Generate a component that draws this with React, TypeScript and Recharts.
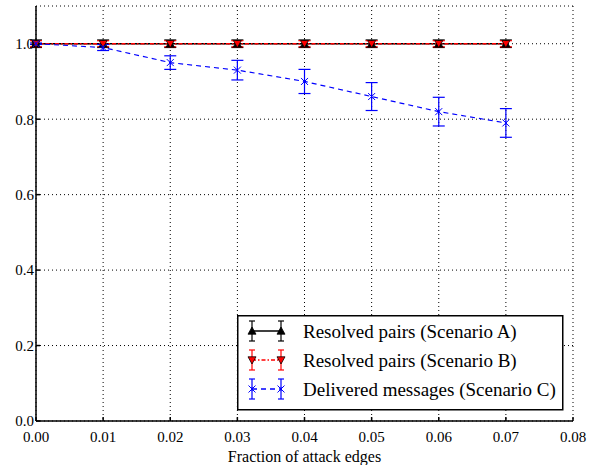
import React from 'react';
import { LineChart, Line, XAxis, YAxis, CartesianGrid, ErrorBar, Legend } from 'recharts';

const fractions = [0, 0.01, 0.02, 0.03, 0.04, 0.05, 0.06, 0.07];
const resolvedA = [1, 1, 1, 1, 1, 1, 1, 1];
const resolvedAErr = [0.01, 0.01, 0.01, 0.01, 0.01, 0.01, 0.01, 0.01];
const resolvedB = [1, 1, 1, 1, 1, 1, 1, 1];
const resolvedBErr = [0.008, 0.008, 0.008, 0.008, 0.008, 0.008, 0.008, 0.008];
const deliveredC = [1.0, 0.99, 0.95, 0.93, 0.9, 0.86, 0.82, 0.79];
const deliveredCErr = [0.002, 0.008, 0.018, 0.026, 0.032, 0.037, 0.038, 0.038];

const xTicks = [0, 0.01, 0.02, 0.03, 0.04, 0.05, 0.06, 0.07, 0.08];
const yTicks = [0, 0.2, 0.4, 0.6, 0.8, 1.0];

const legendLabels = [
  'Resolved pairs (Scenario A)',
  'Resolved pairs (Scenario B)',
  'Delivered messages (Scenario C)',
];

const data = fractions.map((f, i) => ({
  x: f,
  a: resolvedA[i],
  aErr: resolvedAErr[i],
  b: resolvedB[i],
  bErr: resolvedBErr[i],
  c: deliveredC[i],
  cErr: deliveredCErr[i],
}));

const FONT = 'Liberation Serif, DejaVu Serif, Times New Roman, Times, serif';

const triUp = (cx: number, cy: number, s: number) =>
  `M${cx},${cy - s} L${cx + s},${cy + s * 0.8} L${cx - s},${cy + s * 0.8} Z`;
const triDown = (cx: number, cy: number, s: number) =>
  `M${cx},${cy + s} L${cx + s},${cy - s * 0.8} L${cx - s},${cy - s * 0.8} Z`;
const xMark = (cx: number, cy: number, s: number) =>
  `M${cx - s},${cy - s} L${cx + s},${cy + s} M${cx - s},${cy + s} L${cx + s},${cy - s} M${cx},${cy - s * 0.6} L${cx},${cy + s * 0.6}`;

const DotA = (p: any) =>
  p.cx == null ? <g key={p.index} /> : <path key={p.index} d={triUp(p.cx, p.cy, 4)} fill="#000" stroke="#000" strokeWidth={0.8} />;
const DotB = (p: any) =>
  p.cx == null ? <g key={p.index} /> : <path key={p.index} d={triDown(p.cx, p.cy, 4)} fill="#ff0000" stroke="#000" strokeWidth={0.8} />;
const DotC = (p: any) =>
  p.cx == null ? <g key={p.index} /> : <path key={p.index} d={xMark(p.cx, p.cy, 3.5)} fill="none" stroke="#0000ff" strokeWidth={1} />;

const LegendBox = () => {
  const rows = [331, 360, 389].map((y) => y - 315);
  const x1 = 15;
  const x2 = 44;
  const colors = ['#000', '#ff0000', '#0000ff'];
  const dashes = [undefined, '4 2 1.5 2', '5 4'];
  return (
    <svg width={327} height={96} style={{ display: 'block' }}>
      <rect x={0.75} y={0.75} width={325} height={94} fill="#fff" stroke="#000" strokeWidth={1.5} />
      {rows.map((cy, i) => (
        <g key={i}>
          <line x1={x1} y1={cy} x2={x2} y2={cy} stroke={colors[i]} strokeWidth={1.5} strokeDasharray={dashes[i]} />
          {[x1, x2].map((xx) => (
            <g key={xx}>
              <line x1={xx} y1={cy - 10} x2={xx} y2={cy + 10} stroke={colors[i]} strokeWidth={1.2} />
              <line x1={xx - 3} y1={cy - 10} x2={xx + 3} y2={cy - 10} stroke={colors[i]} strokeWidth={1.2} />
              <line x1={xx - 3} y1={cy + 10} x2={xx + 3} y2={cy + 10} stroke={colors[i]} strokeWidth={1.2} />
              {i === 0 && <path d={triUp(xx, cy, 4)} fill="#000" stroke="#000" strokeWidth={0.8} />}
              {i === 1 && <path d={triDown(xx, cy, 4)} fill="#ff0000" stroke="#000" strokeWidth={0.8} />}
              {i === 2 && <path d={xMark(xx, cy, 3.5)} fill="none" stroke="#0000ff" strokeWidth={1} />}
            </g>
          ))}
          <text x={66} y={cy} dominantBaseline="central" style={{ fontFamily: FONT }} fontSize={19} fill="#000">
            {legendLabels[i]}
          </text>
        </g>
      ))}
    </svg>
  );
};

export default function App() {
  return (
    <div style={{ width: 604, height: 465, fontFamily: FONT }}>
      <style>{'body{margin:0} .recharts-wrapper text{font-family:"Liberation Serif","DejaVu Serif",serif;}'}</style>
      <LineChart
        width={604}
        height={465}
        data={data}
        margin={{ top: 6, right: 31, left: 0, bottom: 0 }}
      >
        <CartesianGrid stroke="#000" strokeDasharray="1 3" strokeWidth={1} />
        <XAxis
          dataKey="x"
          type="number"
          domain={[0, 0.08]}
          ticks={xTicks}
          tickFormatter={(v: number) => v.toFixed(2)}
          height={44}
          stroke="#000"
          strokeWidth={1.5}
          tickSize={-4}
          tickMargin={14}
          tick={{ fill: '#000', fontSize: 15 }}
          interval={0}
          label={{ value: 'Fraction of attack edges', position: 'insideBottom', offset: 3, fill: '#000', fontSize: 16 }}
        />
        <XAxis
          xAxisId="top"
          orientation="top"
          type="number"
          dataKey="x"
          domain={[0, 0.08]}
          ticks={xTicks}
          mirror
          height={0}
          stroke="#000"
          strokeWidth={1.5}
          tickSize={4}
          tick={false}
        />
        <YAxis
          type="number"
          domain={[0, 1.1]}
          ticks={yTicks}
          tickFormatter={(v: number) => v.toFixed(1)}
          width={36}
          stroke="#000"
          strokeWidth={1.5}
          tickSize={-4}
          tickMargin={6}
          interval={0}
          tick={{ fill: '#000', fontSize: 15 }}
        />
        <YAxis
          yAxisId="right"
          orientation="right"
          type="number"
          domain={[0, 1.1]}
          ticks={yTicks}
          mirror
          width={0}
          stroke="#000"
          strokeWidth={1.5}
          tickSize={4}
          tick={false}
        />
        <Line dataKey="a" stroke="#000" strokeWidth={1.5} dot={DotA} isAnimationActive={false}>
          <ErrorBar dataKey="aErr" width={6} stroke="#000" strokeWidth={1.2} isAnimationActive={false} />
        </Line>
        <Line dataKey="b" stroke="#ff0000" strokeWidth={1.5} strokeDasharray="4 2 1.5 2" dot={DotB} isAnimationActive={false}>
          <ErrorBar dataKey="bErr" width={6} stroke="#ff0000" strokeWidth={1.2} isAnimationActive={false} />
        </Line>
        <Line dataKey="c" stroke="#0000ff" strokeWidth={1.2} strokeDasharray="5 4" dot={DotC} isAnimationActive={false}>
          <ErrorBar dataKey="cErr" width={6} stroke="#0000ff" strokeWidth={1.2} isAnimationActive={false} />
        </Line>
        <Legend
          layout="vertical"
          align="center"
          verticalAlign="middle"
          content={() => <LegendBox />}
          wrapperStyle={{ left: 237, top: 315, width: 327, height: 96 }}
        />
      </LineChart>
    </div>
  );
}
